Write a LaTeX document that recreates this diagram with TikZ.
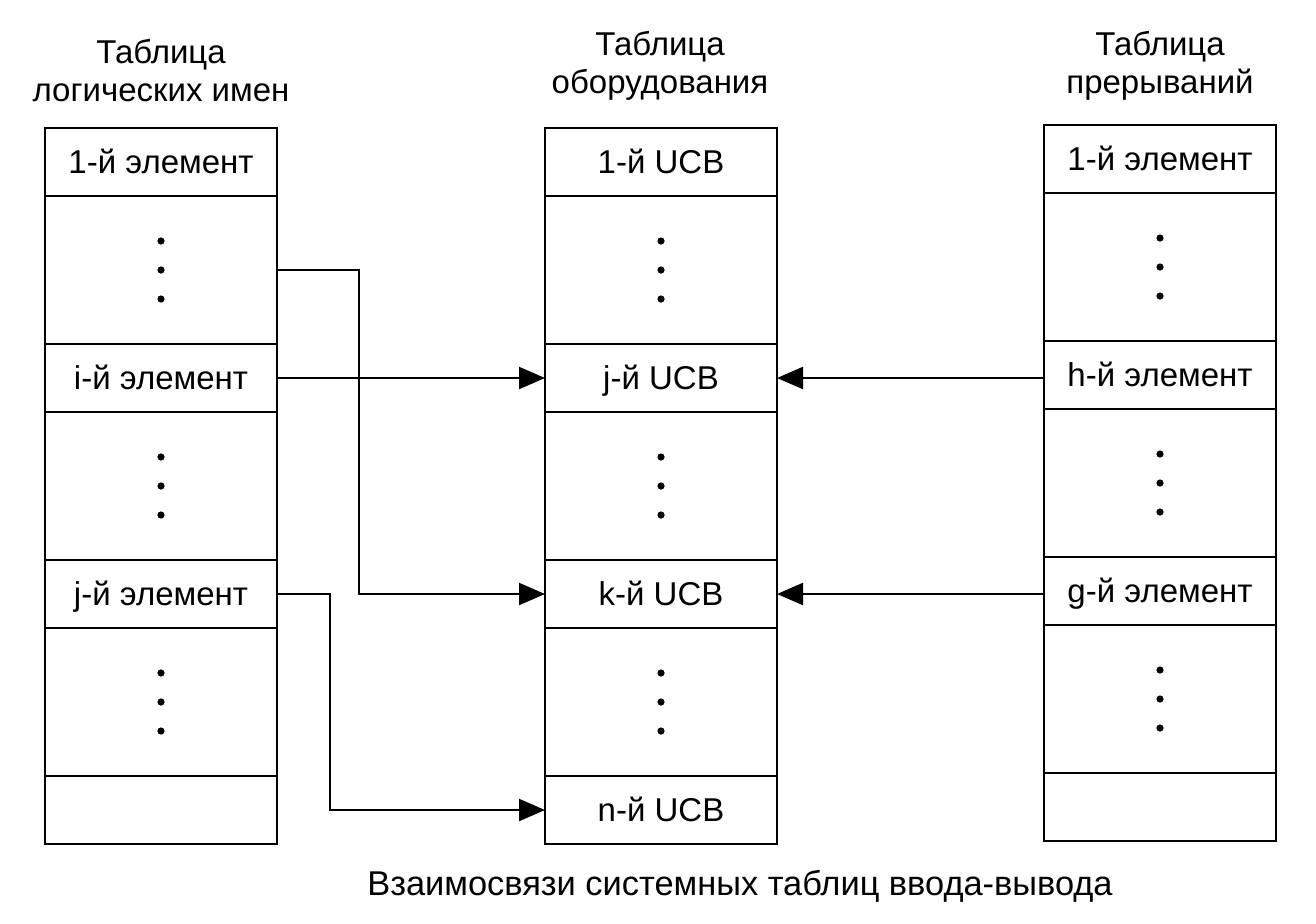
\documentclass[tikz,border=0pt]{standalone}
\usepackage{fontspec}
\setmainfont{Liberation Sans}
\usetikzlibrary{positioning,arrows.meta}

\tikzset{
  cell/.style={draw, line width=1.4pt, minimum width=116pt, minimum height=34pt,
    inner sep=0pt, outer sep=0pt, text height=11pt, text depth=0pt,
    font=\fontsize{16.5}{19}\selectfont},
  gap/.style={cell, minimum height=74pt},
  link/.style={line width=1.1pt, -{Triangle[length=13pt,width=11pt]}},
  head/.style={align=center, font=\fontsize{16.5}{19}\selectfont},
}
% three dots in the middle of a row
\newcommand{\rowdots}[1]{\foreach \d in {-29,0,29} \fill (#1.center) ++(0,\d) circle (1.8pt);}

\begin{document}
\begin{tikzpicture}[x=0.5pt, y=-0.5pt]
  \useasboundingbox (0,0) rectangle (1316,923);

  % logical names
  \node[head] (tl) at (161,71) {Таблица\\логических имен};
  \node[cell, anchor=north] (L1) at (161,128) {1-й элемент};
  \node[gap, below=0pt of L1] (Ld1) {};
  \node[cell, below=0pt of Ld1] (Li) {i-й элемент};
  \node[gap, below=0pt of Li] (Ld2) {};
  \node[cell, below=0pt of Ld2] (Lj) {j-й элемент};
  \node[gap, below=0pt of Lj] (Ld3) {};
  \node[cell, below=0pt of Ld3] (Le) {};

  % equipment
  \node[head] (tm) at (660,66) {Таблица\\оборудования};
  \node[cell, anchor=north] (M1) at (661,128) {1-й UCB};
  \node[gap, below=0pt of M1] (Md1) {};
  \node[cell, below=0pt of Md1] (Mj) {j-й UCB};
  \node[gap, below=0pt of Mj] (Md2) {};
  \node[cell, below=0pt of Md2] (Mk) {k-й UCB};
  \node[gap, below=0pt of Mk] (Md3) {};
  \node[cell, below=0pt of Md3] (Mn) {n-й UCB};

  % interrupts
  \node[head] (tr) at (1160,66) {Таблица\\прерываний};
  \node[cell, anchor=north] (R1) at (1160,125) {1-й элемент};
  \node[gap, below=0pt of R1] (Rd1) {};
  \node[cell, below=0pt of Rd1] (Rh) {h-й элемент};
  \node[gap, below=0pt of Rh] (Rd2) {};
  \node[cell, below=0pt of Rd2] (Rg) {g-й элемент};
  \node[gap, below=0pt of Rg] (Rd3) {};
  \node[cell, below=0pt of Rd3] (Re) {};

  \rowdots{Ld1} \rowdots{Ld2} \rowdots{Ld3}
  \rowdots{Md1} \rowdots{Md2} \rowdots{Md3}
  \rowdots{Rd1} \rowdots{Rd2} \rowdots{Rd3}

  \draw[link] (Ld1.east) -- ++(82,0) |- (Mk.west);
  \draw[link] (Li.east) -- (Mj.west);
  \draw[link] (Lj.east) -- ++(53,0) |- (Mn.west);
  \draw[link] (Rh.west |- Mj.east) -- (Mj.east);
  \draw[link] (Rg.west |- Mk.east) -- (Mk.east);

  \node[head, font=\fontsize{17.2}{20}\selectfont] (cap) at (740,886) {Взаимосвязи системных таблиц ввода-вывода};
\end{tikzpicture}
\end{document}
